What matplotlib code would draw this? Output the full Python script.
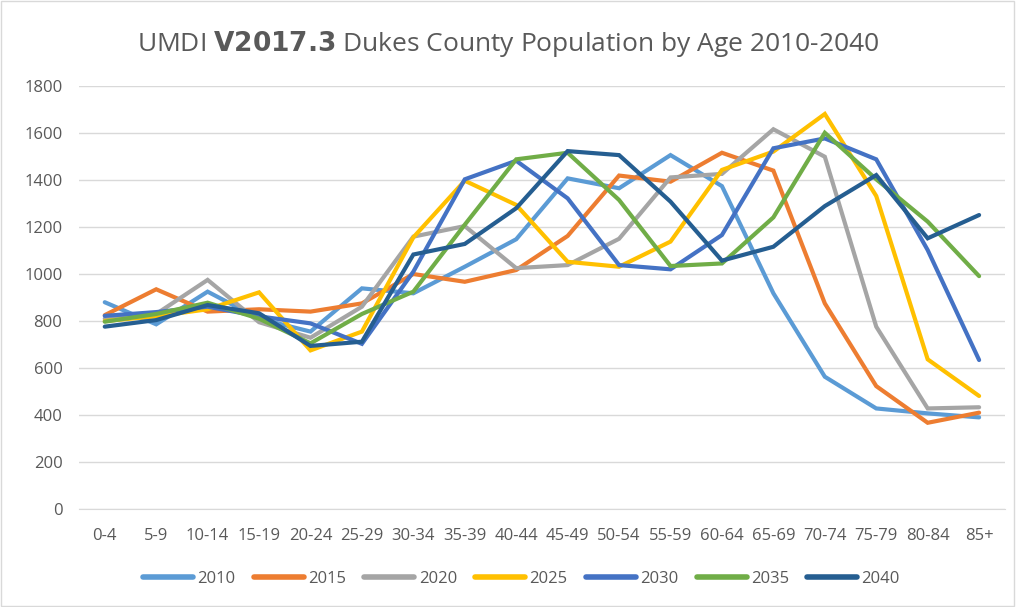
import matplotlib.pyplot as plt
from matplotlib.patches import Rectangle

ages = ['0-4', '5-9', '10-14', '15-19', '20-24', '25-29', '30-34', '35-39', '40-44',
        '45-49', '50-54', '55-59', '60-64', '65-69', '70-74', '75-79', '80-84', '85+']

y2010 = [880, 786, 925, 810, 755, 939, 918, 1031, 1148, 1407, 1365, 1506, 1374, 918, 563, 428, 407, 390]
y2015 = [825, 935, 840, 850, 840, 875, 1000, 967, 1017, 1162, 1419, 1393, 1516, 1440, 875, 523, 367, 410]
y2020 = [810, 830, 975, 795, 729, 861, 1159, 1204, 1025, 1038, 1150, 1411, 1426, 1616, 1499, 776, 428, 433]
y2025 = [800, 820, 850, 922, 675, 755, 1156, 1397, 1294, 1052, 1031, 1138, 1443, 1521, 1681, 1332, 637, 481]
y2030 = [822, 838, 861, 820, 790, 703, 1010, 1403, 1482, 1322, 1038, 1020, 1166, 1535, 1577, 1488, 1102, 634]
y2035 = [797, 830, 878, 810, 705, 830, 925, 1210, 1488, 1516, 1315, 1034, 1045, 1241, 1601, 1403, 1223, 991]
y2040 = [776, 804, 868, 833, 694, 712, 1083, 1128, 1280, 1523, 1506, 1308, 1057, 1116, 1289, 1421, 1152, 1251]

years = ['2010', '2015', '2020', '2025', '2030', '2035', '2040']
series = [y2010, y2015, y2020, y2025, y2030, y2035, y2040]
colors = ['#5B9BD5', '#ED7D31', '#A5A5A5', '#FFC000', '#4472C4', '#70AD47', '#255E91']

plt.rcParams['font.family'] = ['Open Sans', 'DejaVu Sans']

fig = plt.figure(figsize=(10.16, 6.07), dpi=100)
ax = fig.add_axes([0.0778, 0.1614, 0.9112, 0.6969])

x = list(range(len(ages)))
for vals, c, yr in zip(series, colors, years):
    ax.plot(x, vals, color=c, linewidth=3, label=yr, solid_capstyle='round', solid_joinstyle='miter')

ax.set_xlim(-0.5, len(ages) - 0.5)
ax.set_ylim(0, 1800)
ax.set_yticks(range(0, 1801, 200))
ax.set_xticks(x)
ax.set_xticklabels(ages)
ax.yaxis.grid(True, color='#D9D9D9', linewidth=1)
ax.set_axisbelow(True)
for s in ['top', 'right', 'left']:
    ax.spines[s].set_visible(False)
ax.spines['bottom'].set_color('#D9D9D9')
ax.tick_params(axis='y', length=0, labelsize=12, labelcolor='#595959', pad=12)
ax.tick_params(axis='x', length=0, labelsize=12, labelcolor='#595959', pad=14)

fig.text(0.5, 0.928, 'UMDI $\\bf{V2017.3}$ Dukes County Population by Age 2010-2040',
         ha='center', va='center', fontsize=19, color='#595959')

leg = ax.legend(loc='center', bbox_to_anchor=(0.478, -0.165), ncol=7, frameon=False,
                fontsize=12, handlelength=3.0, columnspacing=1.1, handletextpad=0.25)
for t in leg.get_texts():
    t.set_color('#595959')
for h in leg.get_lines():
    h.set_linewidth(4)

fig.patches.append(Rectangle((0.001, 0.002), 0.997, 0.996, transform=fig.transFigure,
                             fill=False, edgecolor='#D9D9D9', linewidth=1))

fig.savefig('out.png', dpi=100)
